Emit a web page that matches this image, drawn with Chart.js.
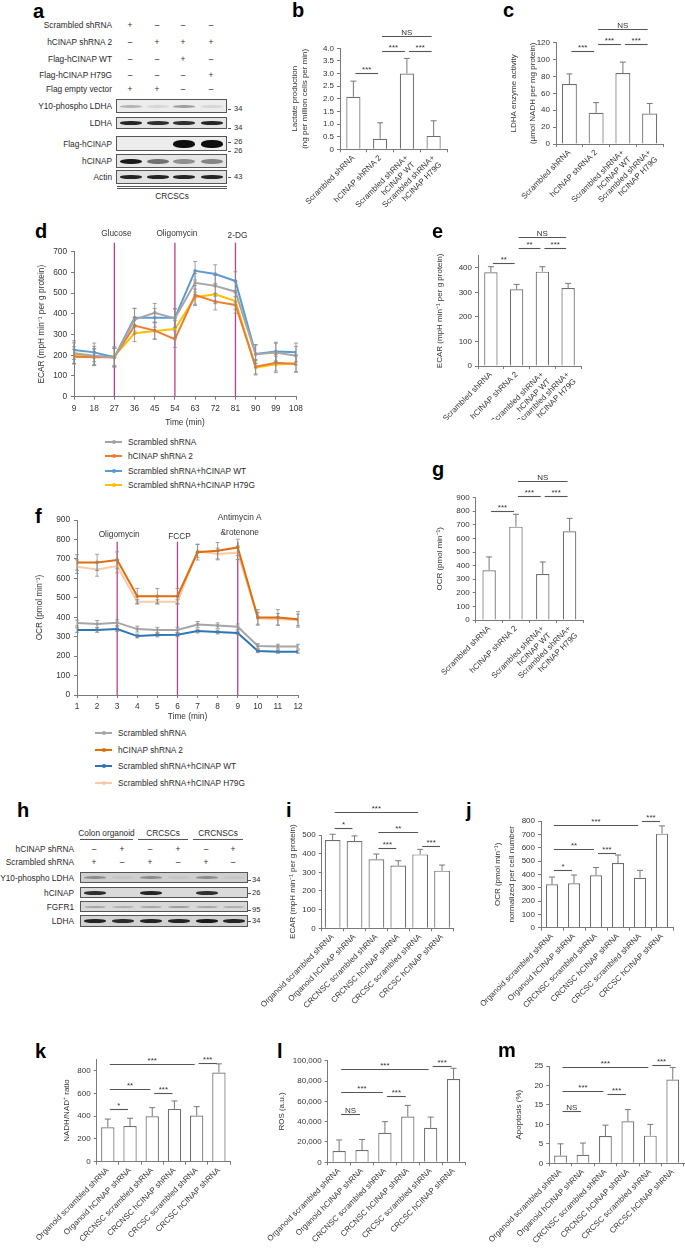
<!DOCTYPE html>
<html>
<head>
<meta charset="utf-8">
<script src="https://cdn.jsdelivr.net/npm/chart.js@4.4.1/dist/chart.umd.min.js"></script>
<style>
body { margin: 0; background: #fff; }
#fig { position: relative; width: 685px; height: 1249px; overflow: hidden; font-family: "Liberation Sans", Arial, Helvetica, sans-serif; color: #333; }
#fig canvas { position: absolute; }
.t { position: absolute; white-space: nowrap; line-height: 1; color: #2a2a2a; }
.box { position: absolute; border: 1px solid #555; box-sizing: border-box; overflow: hidden; }
.band { position: absolute; border-radius: 45%; filter: blur(0.6px); }
.hl { position: absolute; height: 0; border-top: 1px solid #555; }
.lab { position: absolute; font-weight: bold; font-size: 20px; line-height: 20px; color: #000; }
</style>
</head>
<body>
<div id="fig"></div>
<script>
// ---------- data ----------
// b, c, e, g: CRCSCs, knockdown and rescue
const rescueLabels = ['Scrambled shRNA', 'hCINAP shRNA 2', ['Scrambled shRNA+', 'hCINAP WT'], ['Scrambled shRNA+', 'hCINAP H79G']];

const lactate = [2.08, 0.42, 3.0, 0.53];
const lactateErr = [0.62, 0.63, 0.6, 0.6];
const lactateSig = [[0, 1, 3.03, '***'], [1, 2, 3.9, '***'], [2, 3, 3.9, '***'], [1, 3, 4.5, 'NS']];

const ldhaAct = [71, 37, 84, 36];
const ldhaActErr = [12, 12, 13, 12];
const ldhaActSig = [[0, 1, 110, '***'], [1, 2, 118.5, '***'], [2, 3, 118.5, '***'], [1, 3, 136, 'NS']];

const ecarBar = [382, 313, 385, 318];
const ecarBarErr = [23, 20, 20, 19];
const ecarBarSig = [[0, 1, 421, '**'], [1, 2, 483, '**'], [2, 3, 483, '***'], [1, 3, 527, 'NS']];

const ocrBar = [366, 687, 338, 653];
const ocrBarErr = [98, 91, 89, 95];
const ocrBarSig = [[0, 1, 802, '***'], [1, 2, 912, '***'], [2, 3, 912, '***'], [1, 3, 1023, 'NS']];

// d: ECAR time course
const ecarTimes = [9, 18, 27, 36, 45, 54, 63, 72, 81, 90, 99, 108];
const ecarScr = [210, 198, 188, 372, 405, 378, 550, 535, 507, 205, 213, 198];
const ecarKd = [193, 190, 190, 343, 319, 278, 491, 459, 443, 145, 164, 158];
const ecarWt = [225, 214, 190, 381, 381, 381, 608, 592, 558, 206, 218, 214];
const ecarH79 = [201, 193, 196, 306, 317, 327, 480, 494, 462, 140, 156, 161];
const ecarScrErr = [50, 45, 45, 55, 45, 45, 45, 50, 50, 45, 45, 45];
const ecarKdErr = [35, 40, 45, 40, 40, 40, 45, 40, 40, 35, 40, 40];
const ecarWtErr = [45, 45, 45, 45, 45, 45, 45, 45, 45, 45, 45, 45];
const ecarH79Err = [40, 40, 45, 40, 40, 40, 40, 45, 40, 35, 40, 40];
const ecarInject = [27, 54, 81];
const ecarInjectNames = ['Glucose', 'Oligomycin', '2-DG'];

// f: OCR time course
const ocrTimes = [1, 2, 3, 4, 5, 6, 7, 8, 9, 10, 11, 12];
const ocrScr = [370, 365, 372, 339, 334, 334, 363, 357, 351, 252, 249, 249];
const ocrKd = [682, 682, 694, 508, 508, 508, 734, 742, 759, 399, 399, 389];
const ocrWt = [334, 334, 339, 303, 309, 310, 329, 324, 319, 226, 223, 223];
const ocrH79 = [660, 646, 663, 480, 480, 480, 741, 725, 732, 394, 389, 386];
const ocrScrErr = [15, 18, 15, 15, 14, 14, 15, 14, 14, 12, 12, 12];
const ocrKdErr = [40, 42, 42, 40, 40, 40, 40, 42, 42, 40, 40, 40];
const ocrWtErr = [12, 12, 12, 10, 10, 10, 10, 10, 10, 8, 8, 8];
const ocrH79Err = [35, 35, 35, 10, 10, 10, 35, 30, 35, 30, 30, 30];
const ocrInject = [3, 6, 9];
const ocrInjectNames = [['Oligomycin'], ['FCCP'], ['Antimycin A', '&rotenone']];

const seriesNames = ['Scrambled shRNA', 'hCINAP shRNA 2', 'Scrambled shRNA+hCINAP WT', 'Scrambled shRNA+hCINAP H79G'];

// i - m: organoid / CRCNSC / CRCSC
const cellLabels = ['Organoid scrambled shRNA', 'Organoid hCINAP shRNA', 'CRCNSC scrambled shRNA', 'CRCNSC hCINAP shRNA', 'CRCSC scrambled shRNA', 'CRCSC hCINAP shRNA'];

const ecarCells = [473, 468, 370, 336, 396, 309];
const ecarCellsErr = [31, 27, 28, 26, 27, 30];
const ecarCellsSig = [[0, 1, 536, '*'], [2, 4, 518, '**'], [2, 3, 429, '***'], [4, 5, 441, '***'], [0, 4, 623, '***']];

const ocrCells = [325, 333, 393, 485, 375, 705];
const ocrCellsErr = [55, 62, 58, 60, 55, 58];
const ocrCellsSig = [[0, 1, 433, '*'], [0, 2, 588, '**'], [2, 3, 558, '***'], [0, 4, 770, '***'], [4, 5, 800, '***']];

const nadh = [303, 314, 399, 464, 405, 783];
const nadhErr = [72, 68, 76, 70, 79, 77];
const nadhSig = [[0, 1, 461, '*'], [0, 2, 640, '**'], [2, 3, 607, '***'], [0, 4, 860, '***'], [4, 5, 866, '***']];

const ros = [11000, 12000, 29000, 45000, 34000, 82000];
const rosErr = [11000, 10500, 11000, 11000, 10500, 10500];
const rosSig = [[0, 1, 48000, 'NS'], [0, 2, 69000, '***'], [2, 3, 65000, '***'], [0, 4, 91800, '***'], [4, 5, 95000, '***']];

const apop = [2.0, 2.2, 7.0, 10.8, 7.1, 21.5];
const apopErr = [3.0, 3.0, 2.8, 3.0, 2.9, 3.1];
const apopSig = [[0, 1, 13.5, 'NS'], [0, 2, 18.7, '***'], [2, 3, 17.7, '***'], [0, 4, 24.7, '***'], [4, 5, 25.3, '***']];

// blots (band darkness per lane)
const blotARows = ['Y10-phospho LDHA', 'LDHA', 'Flag-hCINAP', 'hCINAP', 'Actin'];
const blotABands = [[0.25, 0.1, 0.35, 0.1], [0.9, 0.85, 0.85, 0.9], [0, 0, 1, 1], [0.95, 0.55, 0.4, 0.45], [0.9, 0.9, 0.9, 0.9]];
const blotAConds = [
  ['Scrambled shRNA', ['+', '–', '–', '–']],
  ['hCINAP shRNA 2', ['–', '+', '+', '+']],
  ['Flag-hCINAP WT', ['–', '–', '+', '–']],
  ['Flag-hCINAP H79G', ['–', '–', '–', '+']],
  ['Flag empty vector', ['+', '+', '–', '–']]
];
const blotAKda = ['34', '34', '26', '26', '43'];

const blotHRows = ['Y10-phospho LDHA', 'hCINAP', 'FGFR1', 'LDHA'];
const blotHBands = [[0.35, 0.05, 0.35, 0.05, 0.35, 0.05], [0.85, 0, 0.9, 0, 0.85, 0], [0.25, 0.2, 0.25, 0.3, 0.25, 0.2], [0.9, 0.85, 0.9, 0.9, 0.95, 0.9]];
const blotHConds = [
  ['hCINAP shRNA', ['–', '+', '–', '+', '–', '+']],
  ['Scrambled shRNA', ['+', '–', '+', '–', '+', '–']]
];
const blotHGroups = ['Colon organoid', 'CRCSCs', 'CRCNSCs'];
const blotHKda = ['34', '26', '95', '34'];

// ---------- helpers ----------
const FONT = '"Liberation Sans", Arial, Helvetica, sans-serif';
const AXIS = '#7a7a7a';
Chart.defaults.font.family = FONT;
Chart.defaults.font.size = 8;
Chart.defaults.color = '#333';
Chart.defaults.animation = false;
Chart.defaults.responsive = false;
Chart.defaults.plugins.legend.display = false;
Chart.defaults.plugins.tooltip.enabled = false;

const fig = document.getElementById('fig');
const commas = v => String(v).replace(/\B(?=(\d{3})+(?!\d))/g, ',');

function el(cls, css, text) {
  const d = document.createElement('div');
  d.className = cls;
  d.style.cssText = css;
  if (text !== undefined) d.textContent = text;
  fig.appendChild(d);
  return d;
}

function txt(x, y, s, align, size) {
  const tx = align === 'right' ? '-100%' : align === 'center' ? '-50%' : '0';
  return el('t', `left:${x}px;top:${y}px;transform:translate(${tx},-50%);font-size:${size || 8.3}px`, s);
}

function panel(ch, x, y) {
  el('lab', `left:${x}px;top:${y}px`, ch);
}

function canvasAt(l, t, w, h) {
  const c = document.createElement('canvas');
  c.width = Math.round(w);
  c.height = Math.round(h);
  c.style.left = l + 'px';
  c.style.top = t + 'px';
  fig.appendChild(c);
  return c;
}

const errorBars = {
  id: 'errorBars',
  afterDatasetsDraw(chart, args, opts) {
    const ctx = chart.ctx, y = chart.scales.y;
    chart.data.datasets.forEach((ds, di) => {
      if (!ds.errors) return;
      const meta = chart.getDatasetMeta(di);
      ctx.save();
      ctx.strokeStyle = opts.color;
      ctx.lineWidth = opts.width;
      meta.data.forEach((pt, i) => {
        const d = ds.data[i];
        const v = typeof d === 'object' ? d.y : d;
        const e = ds.errors[i];
        const hi = y.getPixelForValue(v + e);
        const lo = y.getPixelForValue(opts.both ? v - e : v);
        ctx.beginPath();
        ctx.moveTo(pt.x, lo);
        ctx.lineTo(pt.x, hi);
        ctx.moveTo(pt.x - opts.cap, hi);
        ctx.lineTo(pt.x + opts.cap, hi);
        if (opts.both) {
          ctx.moveTo(pt.x - opts.cap, lo);
          ctx.lineTo(pt.x + opts.cap, lo);
        }
        ctx.stroke();
      });
      ctx.restore();
    });
  }
};

const sigBars = {
  id: 'sigBars',
  afterDraw(chart, args, opts) {
    const ctx = chart.ctx, x = chart.scales.x, y = chart.scales.y;
    ctx.save();
    (opts.items || []).forEach(([a, b, v, s]) => {
      const x0 = x.getPixelForValue(a) + 2, x1 = x.getPixelForValue(b) - 2;
      const py = Math.round(y.getPixelForValue(v)) + 0.5;
      ctx.strokeStyle = '#555';
      ctx.lineWidth = 1.1;
      ctx.beginPath();
      ctx.moveTo(x0, py);
      ctx.lineTo(x1, py);
      ctx.stroke();
      ctx.fillStyle = '#333';
      ctx.textAlign = 'center';
      ctx.textBaseline = 'alphabetic';
      ctx.font = '8px ' + FONT;
      ctx.fillText(s, (x0 + x1) / 2, py - 2);
    });
    ctx.restore();
  }
};

const injections = {
  id: 'injections',
  beforeDatasetsDraw(chart, args, opts) {
    const {ctx, chartArea} = chart, x = chart.scales.x;
    ctx.save();
    opts.at.forEach((t, i) => {
      const px = x.getPixelForValue(t);
      ctx.strokeStyle = '#bf3f86';
      ctx.lineWidth = 1.3;
      ctx.beginPath();
      ctx.moveTo(px, chartArea.top + opts.lineTop);
      ctx.lineTo(px, chartArea.bottom);
      ctx.stroke();
      ctx.fillStyle = '#333';
      ctx.font = '8.3px ' + FONT;
      ctx.textAlign = 'center';
      ctx.textBaseline = 'middle';
      [].concat(opts.names[i]).forEach((line, j) => {
        ctx.fillText(line, px + 2, chartArea.top + opts.labelY[i] + j * 15);
      });
    });
    ctx.restore();
  }
};

function barChart(p) {
  const [x0, y0, x1, y1] = p.area;
  const L = Math.round(x0 - 120), T = p.top, R = Math.round(x1 + 8), B = p.bottom;
  const lh = p.titleLH || 9.6;
  const padL = p.titleX - lh / 2 - L;
  new Chart(canvasAt(L, T, R - L, B - T), {
    type: 'bar',
    data: {
      labels: p.labels,
      datasets: [{
        data: p.values, errors: p.errors,
        backgroundColor: '#fff', borderColor: '#6e6e6e', borderWidth: 1.2,
        barPercentage: p.barPct, categoryPercentage: 1
      }]
    },
    options: {
      layout: { padding: { left: padL, top: y0 - T, right: R - x1, bottom: 0 } },
      plugins: {
        errorBars: { color: '#777', cap: 3, width: 1, both: false },
        sigBars: { items: p.sig }
      },
      scales: {
        x: {
          ticks: { autoSkip: false, minRotation: 45, maxRotation: 45, padding: 1 },
          grid: { drawOnChartArea: false, offset: true, tickLength: 3, color: AXIS },
          border: { color: AXIS },
          afterFit(s) { s.height = B - y1; s.paddingLeft = 0; s.paddingRight = 0; }
        },
        y: {
          min: p.min, max: p.max,
          ticks: { stepSize: p.step, padding: 3, callback: p.fmt || (v => commas(v)) },
          grid: { drawOnChartArea: false, tickLength: 3, color: AXIS },
          border: { color: AXIS },
          title: { display: true, text: p.title, padding: 0, font: { size: 8, lineHeight: lh / 8 } },
          afterFit(s) { s.width = x0 - L - padL; s.paddingTop = 0; s.paddingBottom = 0; }
        }
      }
    },
    plugins: [errorBars, sigBars]
  });
}

function lineChart(p) {
  const [x0, y0, x1, y1] = p.area;
  const L = Math.round(p.titleX - 10), T = p.top, R = Math.round(x1 + 14), B = p.bottom;
  const padL = p.titleX - 4.8 - L;
  new Chart(canvasAt(L, T, R - L, B - T), {
    type: 'line',
    data: {
      datasets: p.series.map(s => ({
        label: s.label,
        data: s.data.map((v, i) => ({ x: p.times[i], y: v })),
        errors: s.err,
        borderColor: s.color, backgroundColor: s.color,
        borderWidth: 2, pointRadius: 1.8, pointBorderWidth: 0, tension: 0
      }))
    },
    options: {
      layout: { padding: { left: padL, top: y0 - T, right: R - x1, bottom: 0 } },
      plugins: {
        errorBars: { color: '#8a8a8a', cap: 2, width: 0.8, both: true },
        injections: p.inj
      },
      scales: {
        x: {
          type: 'linear', min: p.times[0], max: p.times[p.times.length - 1],
          ticks: { stepSize: p.times[1] - p.times[0], padding: 4, font: { size: 8.3 } },
          grid: { drawOnChartArea: false, tickLength: 3, color: AXIS },
          border: { color: AXIS },
          title: { display: true, text: 'Time (min)', padding: 0, font: { size: 8.3 } },
          afterFit(s) { s.height = B - y1; s.paddingLeft = 0; s.paddingRight = 0; }
        },
        y: {
          min: p.min, max: p.max,
          ticks: { stepSize: p.step, padding: 4, font: { size: 8.3 } },
          grid: { drawOnChartArea: false, tickLength: 3, color: AXIS },
          border: { color: AXIS },
          title: { display: true, text: p.title, padding: 0, font: { size: 8.3 } },
          afterFit(s) { s.width = x0 - L - padL; s.paddingTop = 0; s.paddingBottom = 0; }
        }
      }
    },
    plugins: [injections, errorBars]
  });
}

function legend(series, x, ys) {
  series.forEach((s, i) => {
    el('hl', `left:${x}px;top:${ys[i] - 1}px;width:17px;border-top:2px solid ${s.color}`);
    el('hl', `left:${x + 6.5}px;top:${ys[i] - 2}px;width:4px;height:4px;border:0;border-radius:50%;background:${s.color}`);
    txt(x + 23, ys[i], s.label);
  });
}

function blot(x0, x1, rows, lanes, bands, bgs, bandH) {
  rows.forEach(([y0, y1], r) => {
    const box = el('box', `left:${x0}px;top:${y0}px;width:${x1 - x0}px;height:${y1 - y0}px;background:${bgs[r]}`);
    lanes.forEach((lx, i) => {
      const a = bands[r][i];
      if (a <= 0) return;
      const h = bandH[r];
      const b = document.createElement('div');
      b.className = 'band';
      b.style.cssText = `left:${lx - x0 - 11}px;top:${(y1 - y0) / 2 - h / 2 - 1}px;width:22px;height:${h}px;background:rgba(15,15,15,${a})`;
      box.appendChild(b);
    });
  });
}

// ---------- panel a ----------
panel('a', 33, 1);
const lanesA = [130, 157, 183, 211];
const condYA = [25, 42, 59, 75, 89];
blotAConds.forEach(([name, signs], r) => {
  txt(112, condYA[r], name, 'right');
  signs.forEach((s, i) => txt(lanesA[i], condYA[r], s, 'center'));
});
const rowsA = [[99, 113], [117, 129], [136, 151], [154, 168], [170, 184]];
blot(116, 227, rowsA, lanesA, blotABands, ['#ececec', '#e4e4e4', '#ececec', '#e6e6e6', '#e2e2e2'], [3, 4, 8, 5, 4]);
blotARows.forEach((name, r) => txt(112, (rowsA[r][0] + rowsA[r][1]) / 2, name, 'right'));
const kdaYA = [109, 128, 142, 151, 177];
blotAKda.forEach((k, i) => {
  el('hl', `left:228px;top:${kdaYA[i]}px;width:3px`);
  txt(234, kdaYA[i], k, 'left', 7.5);
});
el('hl', 'left:117px;top:186px;width:110px');
el('hl', 'left:117px;top:188px;width:110px');
txt(172, 196, 'CRCSCs', 'center');

// ---------- panel b / c ----------
panel('b', 292, 0);
barChart({
  area: [340, 48.3, 447, 149.3], titleX: 295, titleLH: 10, top: 20, bottom: 212,
  labels: rescueLabels, values: lactate, errors: lactateErr, sig: lactateSig,
  min: 0, max: 4, step: 0.5, fmt: v => (v === 0 ? '0' : v.toFixed(1)), barPct: 0.53,
  title: ['Lactate production', '(ng per million cells per min)']
});
panel('c', 503, 0);
barChart({
  area: [556, 42.7, 663, 144], titleX: 514, titleLH: 19, top: 18, bottom: 212,
  labels: rescueLabels, values: ldhaAct, errors: ldhaActErr, sig: ldhaActSig,
  min: 0, max: 120, step: 20, barPct: 0.56,
  title: ['LDHA enzyme activity', '(µmol NADH per mg protein)']
});

// ---------- panel d ----------
panel('d', 35, 221);
const ecarSeries = [
  { label: seriesNames[0], data: ecarScr, err: ecarScrErr, color: '#a5a5a5' },
  { label: seriesNames[1], data: ecarKd, err: ecarKdErr, color: '#ed7d31' },
  { label: seriesNames[2], data: ecarWt, err: ecarWtErr, color: '#5b9bd5' },
  { label: seriesNames[3], data: ecarH79, err: ecarH79Err, color: '#ffc000' }
];
lineChart({
  area: [74, 251.7, 296, 396.7], titleX: 42, top: 226, bottom: 428,
  times: ecarTimes, series: ecarSeries, min: 0, max: 700, step: 100,
  title: 'ECAR (mpH min⁻¹ per g protein)',
  inj: { at: ecarInject, names: ecarInjectNames, lineTop: -9, labelY: [-17.5, -17.5, -15.5] }
});
legend(ecarSeries, 105, [441.7, 456, 470.7, 485]);

// ---------- panel e ----------
panel('e', 432, 221);
barChart({
  area: [478, 255.7, 581, 366], titleX: 440, top: 222, bottom: 420,
  labels: rescueLabels, values: ecarBar, errors: ecarBarErr, sig: ecarBarSig,
  min: 0, max: 450, step: 50, barPct: 0.52,
  title: 'ECAR (mpH min⁻¹ per g protein)'
});

// ---------- panel f ----------
panel('f', 35, 506);
const ocrSeries = [
  { label: seriesNames[0], data: ocrScr, err: ocrScrErr, color: '#a6a6a6' },
  { label: seriesNames[1], data: ocrKd, err: ocrKdErr, color: '#e36c0a' },
  { label: seriesNames[2], data: ocrWt, err: ocrWtErr, color: '#2e75b6' },
  { label: seriesNames[3], data: ocrH79, err: ocrH79Err, color: '#f9cba6' }
];
lineChart({
  area: [77, 520, 298, 695], titleX: 40, top: 508, bottom: 722,
  times: ocrTimes, series: ocrSeries, min: 0, max: 900, step: 100,
  title: 'OCR (pmol min⁻¹)',
  inj: { at: ocrInject, names: ocrInjectNames, lineTop: 21.7, labelY: [15, 17, -2] }
});
legend(ocrSeries, 95, [733, 750, 766, 783]);

// ---------- panel g ----------
panel('g', 432, 459);
barChart({
  area: [475.7, 497.7, 583, 620], titleX: 440, top: 466, bottom: 700,
  labels: rescueLabels, values: ocrBar, errors: ocrBarErr, sig: ocrBarSig,
  min: 0, max: 900, step: 100, barPct: 0.5,
  title: 'OCR (pmol min⁻¹)'
});

// ---------- panel h ----------
panel('h', 17, 800);
const lanesH = [94, 122, 150, 178, 206, 233];
const groupX = [[80, 133], [138, 188], [193, 243]];
blotHGroups.forEach((g, i) => {
  txt((groupX[i][0] + groupX[i][1]) / 2, 833, g, 'center');
  el('hl', `left:${groupX[i][0]}px;top:839px;width:${groupX[i][1] - groupX[i][0]}px`);
});
const condYH = [849, 862];
blotHConds.forEach(([name, signs], r) => {
  txt(74, condYH[r], name, 'right');
  signs.forEach((s, i) => txt(lanesH[i], condYH[r], s, 'center'));
});
const rowsH = [[872, 883], [887, 898], [901, 912], [915, 927]];
blot(80, 248, rowsH, lanesH, blotHBands, ['#cfcfcf', '#dadada', '#d8d8d8', '#d2d2d2'], [3, 4, 2, 4]);
blotHRows.forEach((name, r) => txt(74, (rowsH[r][0] + rowsH[r][1]) / 2, name, 'right'));
const kdaYH = [880, 893, 910, 921];
blotHKda.forEach((k, i) => {
  el('hl', `left:248px;top:${kdaYH[i]}px;width:3px`);
  txt(252, kdaYH[i], k, 'left', 7.5);
});

// ---------- panel i / j ----------
panel('i', 286, 800);
barChart({
  area: [321.7, 835, 453, 928.3], titleX: 293, top: 795, bottom: 1030,
  labels: cellLabels, values: ecarCells, errors: ecarCellsErr, sig: ecarCellsSig,
  min: 0, max: 500, step: 50, barPct: 0.72,
  title: 'ECAR (mpH min⁻¹ per g protein)'
});
panel('j', 466, 800);
barChart({
  area: [541, 821, 673, 927.7], titleX: 498, titleLH: 14, top: 795, bottom: 1030,
  labels: cellLabels, values: ocrCells, errors: ocrCellsErr, sig: ocrCellsSig,
  min: 0, max: 800, step: 100, barPct: 0.55,
  title: ['OCR (pmol min⁻¹)', 'normalized per cell number']
});

// ---------- panel k / l / m ----------
panel('k', 35, 1041);
barChart({
  area: [96.7, 1059.3, 230, 1161.7], titleX: 66.7, top: 1045, bottom: 1249,
  labels: cellLabels, values: nadh, errors: nadhErr, sig: nadhSig,
  min: 0, max: 900, step: 100, barPct: 0.6,
  title: 'NADH/NAD⁺ ratio'
});
panel('l', 277, 1041);
barChart({
  area: [327.7, 1060.7, 465, 1162.3], titleX: 281.7, top: 1045, bottom: 1249,
  labels: cellLabels, values: ros, errors: rosErr, sig: rosSig,
  min: 0, max: 100000, step: 10000, barPct: 0.58,
  title: 'ROS (a.u.)'
});
panel('m', 498, 1040);
barChart({
  area: [549.3, 1066, 684, 1163.3], titleX: 518.3, top: 1045, bottom: 1249,
  labels: cellLabels, values: apop, errors: apopErr, sig: apopSig,
  min: 0, max: 25, step: 5, barPct: 0.57,
  title: 'Apoptosis (%)'
});
</script>
</body>
</html>
